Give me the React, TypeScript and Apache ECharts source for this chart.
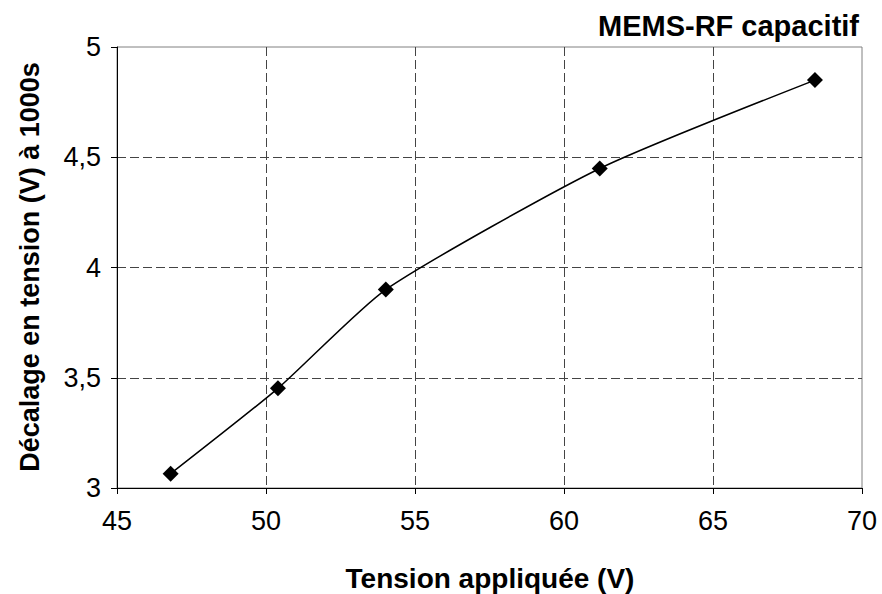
import React, { useEffect, useRef } from "react";
import * as echarts from "echarts";

const xValues = [46.8, 50.4, 54.02, 61.2, 68.42];
const yValues = [3.065, 3.452, 3.9, 4.449, 4.85];
const xTicks = { min: 45, max: 70, interval: 5 };
const yTicks = { min: 3, max: 5, interval: 0.5 };
const chartTitle = "MEMS-RF capacitif";
const xTitle = "Tension appliquée (V)";
const yTitle = "Décalage en tension (V) à 1000s";

const FONT = "'Liberation Sans', Arial, sans-serif";

export default function App() {
  const ref = useRef<HTMLDivElement>(null);
  useEffect(() => {
    if (!ref.current) return;
    const chart = echarts.init(ref.current, undefined, { renderer: "svg" });
    chart.setOption({
      animation: false,
      backgroundColor: "#ffffff",
      textStyle: { fontFamily: FONT },
      grid: {
        left: 117,
        right: 20,
        top: 47,
        bottom: 106,
        show: true,
        borderColor: "#808080",
        borderWidth: 1,
        backgroundColor: "transparent",
      },
      graphic: [
        {
          type: "text",
          x: 859,
          y: 26,
          style: {
            text: chartTitle,
            fontFamily: FONT,
            fontSize: 29,
            fontWeight: "bold",
            fill: "#000",
            align: "right",
            verticalAlign: "middle",
          },
        },
        {
          type: "text",
          x: 490,
          y: 578,
          style: {
            text: xTitle,
            fontFamily: FONT,
            fontSize: 28,
            fontWeight: "bold",
            fill: "#000",
            align: "center",
            verticalAlign: "middle",
          },
        },
        {
          type: "text",
          x: 30,
          y: 267,
          rotation: Math.PI / 2,
          style: {
            text: yTitle,
            fontFamily: FONT,
            fontSize: 27,
            fontWeight: "bold",
            fill: "#000",
            align: "center",
            verticalAlign: "middle",
          },
        },
      ],
      xAxis: {
        type: "value",
        min: xTicks.min,
        max: xTicks.max,
        interval: xTicks.interval,
        axisLine: { show: true, onZero: false, lineStyle: { color: "#000", width: 1 } },
        axisTick: { show: true, inside: false, length: 6, lineStyle: { color: "#000" } },
        axisLabel: { color: "#000", fontSize: 27, margin: 19, fontFamily: FONT },
        splitLine: {
          show: true,
          showMinLine: false,
          showMaxLine: false,
          lineStyle: { color: "#444", type: [9, 4], width: 1 },
        },
      },
      yAxis: {
        type: "value",
        min: yTicks.min,
        max: yTicks.max,
        interval: yTicks.interval,
        axisLine: { show: true, onZero: false, lineStyle: { color: "#000", width: 1 } },
        axisTick: { show: true, inside: false, length: 6, lineStyle: { color: "#000" } },
        axisLabel: {
          color: "#000",
          fontSize: 27,
          margin: 16,
          fontFamily: FONT,
          formatter: (v: number) => String(v).replace(".", ","),
        },
        splitLine: {
          show: true,
          showMinLine: false,
          showMaxLine: false,
          lineStyle: { color: "#444", type: [9, 4], width: 1 },
        },
      },
      series: [
        {
          type: "line",
          data: xValues.map((x, i) => [x, yValues[i]]),
          smooth: 0.2,
          symbol: "diamond",
          symbolSize: 16,
          itemStyle: { color: "#000" },
          lineStyle: { color: "#000", width: 1.5 },
        },
      ],
    });
    return () => chart.dispose();
  }, []);
  return (
    <div
      ref={ref}
      style={{ position: "fixed", left: 0, top: 0, width: 882, height: 594 }}
    />
  );
}
